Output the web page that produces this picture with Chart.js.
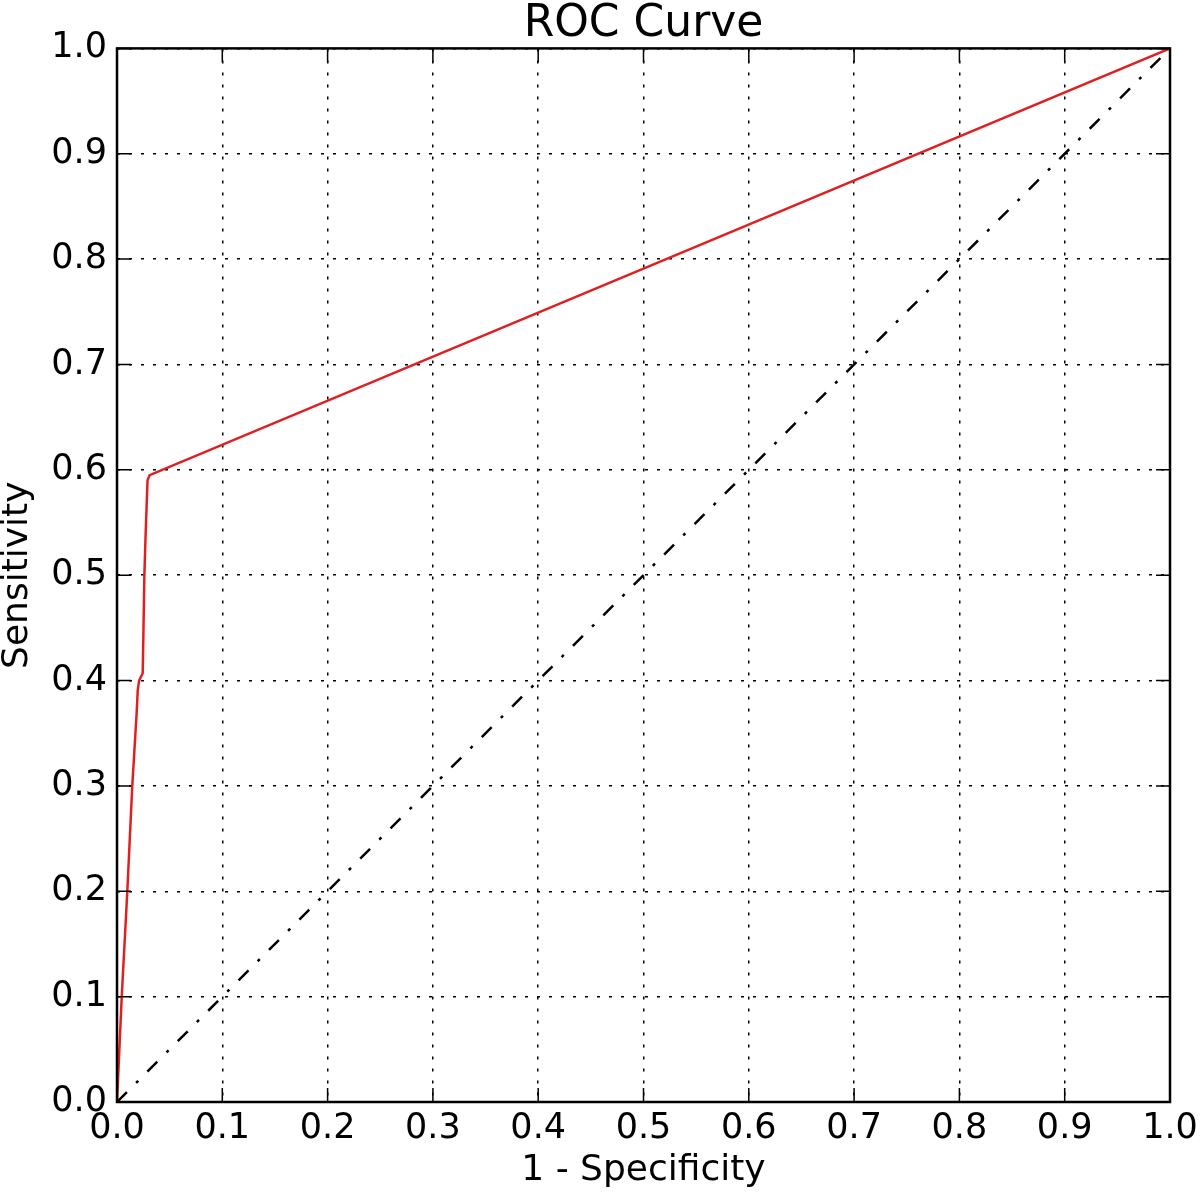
<!DOCTYPE html>
<html>
<head>
<meta charset="utf-8">
<style>
  html, body { margin: 0; padding: 0; background: #fff; }
  #wrap { width: 1200px; height: 1192px; }
</style>
<script src="https://cdn.jsdelivr.net/npm/chart.js@4.4.0/dist/chart.umd.min.js"></script>
</head>
<body>
<div id="wrap"><canvas id="roc"></canvas></div>
<script>
// ROC curve
const fpr = [0, 0.0045, 0.0098, 0.0145, 0.0187, 0.0197, 0.021, 0.0244, 0.025, 0.026, 0.027, 0.028, 0.029, 0.031, 1.0];
const tpr = [0, 0.1, 0.2, 0.3, 0.37, 0.391, 0.4, 0.407, 0.44, 0.5, 0.533, 0.562, 0.59, 0.595, 1.0];
const chanceX = [0, 1];
const chanceY = [0, 1];
const tickValues = [0, 0.1, 0.2, 0.3, 0.4, 0.5, 0.6, 0.7, 0.8, 0.9, 1.0];

const FONT = 'DejaVu Sans, sans-serif';

// frame + inward tick marks, matplotlib classic look
const framePlugin = {
    id: 'frame',
    afterDatasetsDraw(chart) {
        const { ctx, chartArea: a, scales } = chart;
        const len = 14;
        ctx.save();
        ctx.strokeStyle = '#000';
        ctx.lineWidth = 1.5;
        ctx.beginPath();
        tickValues.forEach(v => {
            const x = scales.x.getPixelForValue(v);
            ctx.moveTo(x, a.bottom); ctx.lineTo(x, a.bottom - len);
            ctx.moveTo(x, a.top); ctx.lineTo(x, a.top + len);
            const y = scales.y.getPixelForValue(v);
            ctx.moveTo(a.left, y); ctx.lineTo(a.left + len, y);
            ctx.moveTo(a.right, y); ctx.lineTo(a.right - len, y);
        });
        ctx.stroke();
        ctx.lineWidth = 2.5;
        ctx.strokeRect(a.left, a.top, a.right - a.left, a.bottom - a.top);
        ctx.restore();
    }
};

new Chart(document.getElementById('roc').getContext('2d'), {
    type: 'scatter',
    data: {
        datasets: [
            {
                label: 'ROC',
                data: fpr.map((x, i) => ({ x, y: tpr[i] })),
                showLine: true,
                borderColor: '#e02020',
                borderWidth: 2.5,
                pointRadius: 0,
                tension: 0,
                order: 1,
            },
            {
                label: 'Chance',
                data: chanceX.map((x, i) => ({ x, y: chanceY[i] })),
                showLine: true,
                borderColor: '#000',
                borderWidth: 2.5,
                borderDash: [14, 13, 3, 13],
                pointRadius: 0,
                order: 2,
            },
        ],
    },
    options: {
        responsive: true,
        maintainAspectRatio: false,
        animation: false,
        layout: { padding: { top: 0, right: 30, bottom: 0, left: 0 } },
        plugins: {
            legend: { display: false },
            tooltip: { enabled: false },
            title: {
                display: true,
                fullSize: false,
                text: 'ROC Curve',
                color: '#000',
                font: { family: FONT, size: 44, weight: 'normal', lineHeight: 1.1 },
                padding: { top: 0, bottom: 0 },
            },
        },
        scales: {
            x: {
                type: 'linear',
                min: 0, max: 1,
                afterFit: s => { s.height = 90; s.paddingLeft = 0; s.paddingRight = 0; },
                afterBuildTicks: s => { s.ticks = tickValues.map(v => ({ value: v })); },
                ticks: {
                    color: '#000',
                    font: { family: FONT, size: 35 },
                    padding: 6,
                    maxRotation: 0,
                    callback: v => v.toFixed(1),
                },
                grid: { color: '#000', lineWidth: 1.5, drawTicks: false },
                border: { display: false, dash: [3, 9] },
                title: {
                    display: true,
                    text: '1 - Specificity',
                    color: '#000',
                    font: { family: FONT, size: 36 },
                    padding: 0,
                },
            },
            y: {
                type: 'linear',
                min: 0, max: 1,
                afterFit: s => { s.width = 117; },
                afterBuildTicks: s => { s.ticks = tickValues.map(v => ({ value: v })); },
                ticks: {
                    color: '#000',
                    font: { family: FONT, size: 35 },
                    padding: 10,
                    callback: v => v.toFixed(1),
                },
                grid: { color: '#000', lineWidth: 1.5, drawTicks: false },
                border: { display: false, dash: [3, 9] },
                title: {
                    display: true,
                    text: 'Sensitivity',
                    color: '#000',
                    font: { family: FONT, size: 36, lineHeight: 1.0 },
                    padding: 0,
                },
            },
        },
    },
    plugins: [framePlugin],
});
</script>
</body>
</html>
